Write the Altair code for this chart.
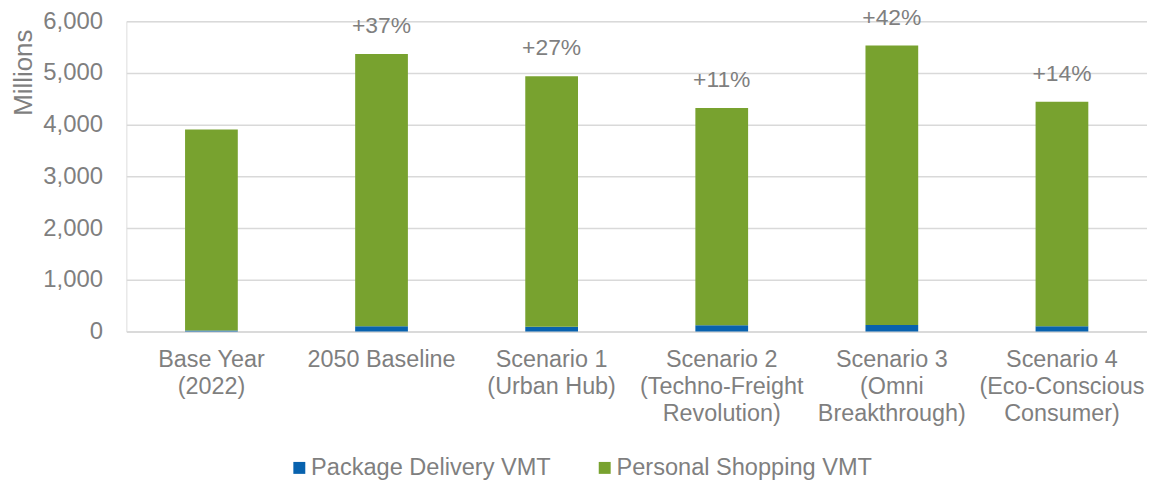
import altair as alt
import pandas as pd

categories = ["Base Year\n(2022)", "2050 Baseline", "Scenario 1\n(Urban Hub)",
              "Scenario 2\n(Techno-Freight\nRevolution)", "Scenario 3\n(Omni\nBreakthrough)",
              "Scenario 4\n(Eco-Conscious\nConsumer)"]
package_delivery = [20, 100, 95, 120, 125, 100]
personal_shopping = [3885, 5265, 4840, 4200, 5405, 4340]
pct_labels = ["", "+37%", "+27%", "+11%", "+42%", "+14%"]
series = ["Package Delivery VMT", "Personal Shopping VMT"]
colors = ["#0862AE", "#78A22F"]

rows = []
for i, c in enumerate(categories):
    rows.append({"cat": c, "series": series[0], "value": package_delivery[i], "ord": 0})
    rows.append({"cat": c, "series": series[1], "value": personal_shopping[i], "ord": 1})
df = pd.DataFrame(rows)

tot = pd.DataFrame({
    "cat": categories,
    "total": [a + b for a, b in zip(package_delivery, personal_shopping)],
    "label": pct_labels,
})

FONT = "Liberation Sans"
GREY = "#7F7F7F"

xenc = alt.X("cat:N", sort=categories, title=None,
             scale=alt.Scale(paddingInner=0.69, paddingOuter=0.345),
             axis=alt.Axis(labelExpr="split(datum.label, '\\n')", labelAngle=0,
                           labelFont=FONT, labelFontSize=23.5, labelColor=GREY,
                           labelLineHeight=27, labelPadding=16, ticks=False,
                           domainColor="#D9D9D9", domainWidth=1.5, grid=False,
                           labelBaseline="top", labelLimit=0))

bars = alt.Chart(df).mark_bar().encode(
    x=xenc,
    y=alt.Y("sum(value):Q", scale=alt.Scale(domain=[0, 6000], nice=False),
            title="Millions",
            axis=alt.Axis(values=[0, 1000, 2000, 3000, 4000, 5000, 6000], format=",.0f",
                          labelFont=FONT, labelFontSize=24, labelColor=GREY,
                          labelPadding=24, ticks=False, domain=False,
                          gridColor="#D9D9D9", gridWidth=1.5,
                          titleFont=FONT, titleFontSize=26, titleColor=GREY,
                          titleFontWeight="normal", titleAngle=270,
                          titleAlign="right", titleBaseline="alphabetic",
                          titleX=-95, titleY=8)),
    color=alt.Color("series:N", scale=alt.Scale(domain=series, range=colors),
                    legend=alt.Legend(title=None, orient="none", direction="horizontal",
                                      legendX=162, legendY=437, padding=0,
                                      symbolType="square", symbolSize=144,
                                      symbolStrokeWidth=0, labelLimit=0,
                                      labelFont=FONT, labelFontSize=23.7, labelColor=GREY,
                                      columnPadding=42, labelOffset=0)),
    order=alt.Order("ord:Q", sort="ascending"),
)

texts = alt.Chart(tot).mark_text(font=FONT, fontSize=23, color=GREY,
                                 baseline="middle", dy=-28).encode(
    x=alt.X("cat:N", sort=categories),
    y=alt.Y("total:Q"),
    text="label:N",
)

chart = alt.layer(bars, texts).properties(
    width=1026, height=312,
    autosize=alt.AutoSizeParams(type="none"),
    padding={"left": 119, "top": 12, "right": 0, "bottom": 150},
).configure_view(stroke=None).configure(background="white")

chart.save("out.html", embed_options={"renderer": "svg", "actions": False})
